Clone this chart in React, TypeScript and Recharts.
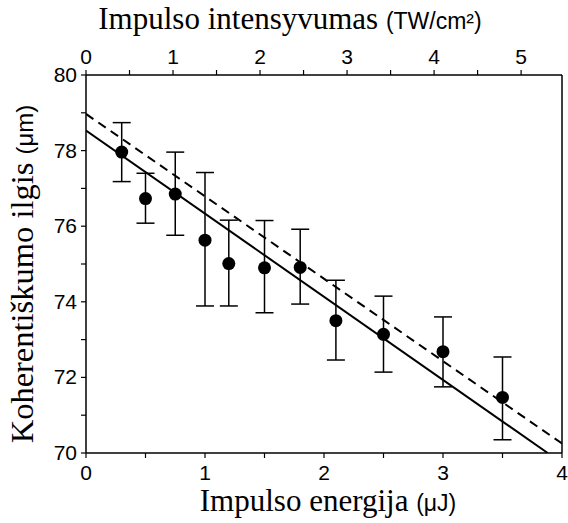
import React from "react";
import {
  ComposedChart,
  XAxis,
  YAxis,
  Scatter,
  Line,
  ErrorBar,
  ReferenceLine,
  Label,
} from "recharts";

// Pulse energy (μJ) of each measurement
const energy = [0.3, 0.5, 0.75, 1.0, 1.2, 1.5, 1.8, 2.1, 2.5, 3.0, 3.5];
// Coherence length (μm)
const coherence = [77.96, 76.73, 76.85, 75.63, 75.01, 74.9, 74.91, 73.5, 73.14, 72.68, 71.47];
// Error bar ends (μm)
const errLower = [77.18, 76.08, 75.76, 73.89, 73.89, 73.71, 73.94, 72.46, 72.14, 71.75, 70.35];
const errUpper = [78.74, 77.4, 77.96, 77.42, 76.16, 76.15, 75.92, 74.57, 74.15, 73.6, 72.54];

// Fitted lines (energy, length)
const solidFitE = [0, 3.88];
const solidFitL = [78.53, 70];
const dashedFitE = [0, 4];
const dashedFitL = [78.97, 70.25];

// Axis ticks
const energyTicks = [0, 0.5, 1, 1.5, 2, 2.5, 3, 3.5, 4];
const intensityTicks = [0, 0.5, 1, 1.5, 2, 2.5, 3, 3.5, 4, 4.5, 5];
const lengthTicks = [70, 71, 72, 73, 74, 75, 76, 77, 78, 79, 80];
const intensityMax = 5.47;

const points = energy.map((e, i) => ({
  e,
  v: coherence[i],
  err: [coherence[i] - errLower[i], errUpper[i] - coherence[i]],
}));
const solidData = solidFitE.map((e, i) => ({ e, v: solidFitL[i] }));
const dashedData = dashedFitE.map((e, i) => ({ e, v: dashedFitL[i] }));

const SANS = "'Liberation Sans', Arial, sans-serif";
const SERIF = "'Liberation Serif', 'Times New Roman', serif";

const XTick = (props: any) => {
  const { x, y, payload, orientation } = props;
  const val = payload.value;
  if (Math.abs(val - Math.round(val)) > 1e-6) return null;
  const ty = orientation === "top" ? y - 4 : y + 20;
  return (
    <text x={x} y={ty} textAnchor="middle" fontFamily={SANS} fontSize={21} fill="#000">
      {String(val)}
    </text>
  );
};

const YTick = (props: any) => {
  const { x, y, payload } = props;
  const val = payload.value;
  if (val % 2 !== 0) return null;
  return (
    <text x={x - 2} y={y + 7} textAnchor="end" fontFamily={SANS} fontSize={21} fill="#000">
      {String(val)}
    </text>
  );
};

const BottomTitle = () => (
  <text x={328} y={511} textAnchor="middle" fill="#000">
    <tspan fontFamily={SERIF} fontSize={31}>Impulso energija </tspan>
    <tspan fontFamily={SANS} fontSize={23}>(μJ)</tspan>
  </text>
);

const TopTitle = () => (
  <text x={290} y={29} textAnchor="middle" fill="#000">
    <tspan fontFamily={SERIF} fontSize={31}>Impulso intensyvumas </tspan>
    <tspan fontFamily={SANS} fontSize={23}>(TW/cm²)</tspan>
  </text>
);

const LeftTitle = () => (
  <text
    x={0}
    y={0}
    transform="translate(33,274) rotate(-90)"
    textAnchor="middle"
    fill="#000"
  >
    <tspan fontFamily={SERIF} fontSize={32.5}>Koherentiškumo ilgis </tspan>
    <tspan fontFamily={SANS} fontSize={24}>(μm)</tspan>
  </text>
);

const Dot = (props: any) => {
  const { cx, cy } = props;
  return <circle cx={cx} cy={cy} r={6.5} fill="#000" />;
};

export default function App() {
  return (
    <div style={{ position: "absolute", left: 0, top: 0, background: "#fff" }}>
      <ComposedChart
        width={568}
        height={523}
        margin={{ top: 0, right: 6, bottom: 0, left: 0 }}
      >
        <XAxis
          xAxisId="bottom"
          dataKey="e"
          type="number"
          domain={[0, 4]}
          ticks={energyTicks}
          interval={0}
          height={70}
          stroke="#000"
          strokeWidth={1.5}
          tickSize={5}
          tickLine={{ stroke: "#000", strokeWidth: 1.2 }}
          tick={<XTick orientation="bottom" />}
          allowDataOverflow
        >
          <Label content={<BottomTitle />} />
        </XAxis>
        <XAxis
          xAxisId="top"
          orientation="top"
          type="number"
          dataKey="e"
          domain={[0, intensityMax]}
          ticks={intensityTicks}
          interval={0}
          height={75}
          stroke="#000"
          strokeWidth={1.5}
          tickSize={5}
          tickLine={{ stroke: "#000", strokeWidth: 1.2 }}
          tick={<XTick orientation="top" />}
          allowDataOverflow
        >
          <Label content={<TopTitle />} />
        </XAxis>
        <YAxis
          type="number"
          domain={[70, 80]}
          ticks={lengthTicks}
          interval={0}
          width={86}
          stroke="#000"
          strokeWidth={1.5}
          tickSize={5}
          tickLine={{ stroke: "#000", strokeWidth: 1.2 }}
          tick={<YTick />}
          allowDataOverflow
        >
          <Label content={<LeftTitle />} />
        </YAxis>
        <ReferenceLine xAxisId="bottom" x={4} stroke="#000" strokeWidth={1.5} ifOverflow="visible" />
        <Line
          xAxisId="bottom"
          data={dashedData}
          dataKey="v"
          stroke="#000"
          strokeWidth={2}
          strokeDasharray="9 6"
          dot={false}
          activeDot={false}
          isAnimationActive={false}
          type="linear"
        />
        <Line
          xAxisId="bottom"
          data={solidData}
          dataKey="v"
          stroke="#000"
          strokeWidth={2}
          dot={false}
          activeDot={false}
          isAnimationActive={false}
          type="linear"
        />
        <Scatter
          xAxisId="bottom"
          data={points}
          dataKey="v"
          fill="#000"
          shape={<Dot />}
          isAnimationActive={false}
        >
          <ErrorBar
            dataKey="err"
            direction="y"
            width={9}
            stroke="#000"
            strokeWidth={1.5}
            isAnimationActive={false}
          />
        </Scatter>
      </ComposedChart>
    </div>
  );
}
